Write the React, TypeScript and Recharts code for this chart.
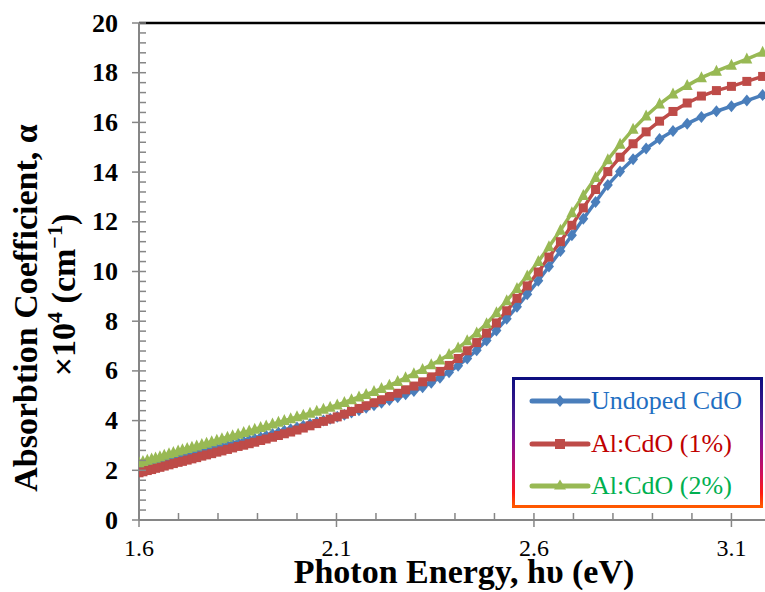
import React from 'react';
import { LineChart, Line, XAxis, YAxis, ReferenceLine, Legend, Label } from 'recharts';

const energy = [
  1.600, 1.610, 1.621, 1.632, 1.642, 1.653, 1.664, 1.676, 1.687, 1.699,
  1.710, 1.722, 1.734, 1.746, 1.759, 1.771, 1.784, 1.797, 1.810, 1.824,
  1.837, 1.851, 1.865, 1.879, 1.893, 1.908, 1.922, 1.938, 1.953, 1.968,
  1.984, 2.000, 2.016, 2.033, 2.050, 2.067, 2.084, 2.102, 2.120, 2.138,
  2.157, 2.175, 2.195, 2.214, 2.234, 2.255, 2.275, 2.296, 2.318, 2.340,
  2.362, 2.385, 2.408, 2.431, 2.455, 2.480, 2.505, 2.531, 2.557, 2.583,
  2.611, 2.638, 2.667, 2.696, 2.725, 2.756, 2.787, 2.818, 2.851, 2.884,
  2.918, 2.952, 2.988, 3.024, 3.062, 3.100, 3.139, 3.179,
];

const undoped = [
  2.10, 2.14, 2.18, 2.23, 2.27, 2.31, 2.36, 2.40, 2.45, 2.50,
  2.54, 2.59, 2.64, 2.69, 2.74, 2.79, 2.84, 2.89, 2.94, 3.00,
  3.05, 3.10, 3.16, 3.22, 3.27, 3.33, 3.39, 3.46, 3.52, 3.59,
  3.65, 3.72, 3.79, 3.86, 3.93, 4.00, 4.07, 4.15, 4.24, 4.33,
  4.42, 4.52, 4.62, 4.72, 4.83, 4.94, 5.06, 5.19, 5.34, 5.52,
  5.72, 5.95, 6.21, 6.50, 6.83, 7.22, 7.63, 8.10, 8.58, 9.08,
  9.63, 10.20, 10.82, 11.46, 12.12, 12.80, 13.48, 14.02, 14.52, 14.95,
  15.33, 15.65, 15.95, 16.22, 16.45, 16.65, 16.88, 17.10,
];

const alCdO1 = [
  1.90, 1.94, 1.99, 2.03, 2.08, 2.12, 2.17, 2.22, 2.27, 2.32,
  2.36, 2.41, 2.46, 2.51, 2.57, 2.62, 2.67, 2.73, 2.78, 2.84,
  2.90, 2.96, 3.01, 3.07, 3.13, 3.20, 3.26, 3.33, 3.40, 3.47,
  3.54, 3.62, 3.70, 3.79, 3.88, 3.97, 4.06, 4.15, 4.26, 4.37,
  4.49, 4.60, 4.72, 4.84, 4.97, 5.10, 5.24, 5.39, 5.56, 5.76,
  5.98, 6.22, 6.50, 6.81, 7.14, 7.52, 7.93, 8.42, 8.92, 9.42,
  9.98, 10.58, 11.20, 11.86, 12.56, 13.30, 14.02, 14.60, 15.14, 15.62,
  16.05, 16.44, 16.78, 17.06, 17.28, 17.45, 17.65, 17.85,
];

const alCdO2 = [
  2.30, 2.35, 2.40, 2.45, 2.50, 2.55, 2.61, 2.67, 2.72, 2.78,
  2.83, 2.88, 2.93, 2.98, 3.04, 3.09, 3.15, 3.21, 3.27, 3.33,
  3.39, 3.45, 3.52, 3.58, 3.65, 3.72, 3.78, 3.86, 3.93, 4.00,
  4.07, 4.15, 4.22, 4.30, 4.38, 4.46, 4.54, 4.63, 4.73, 4.84,
  4.95, 5.05, 5.17, 5.29, 5.42, 5.57, 5.72, 5.89, 6.06, 6.25,
  6.44, 6.66, 6.92, 7.21, 7.53, 7.90, 8.34, 8.82, 9.32, 9.82,
  10.40, 11.00, 11.66, 12.36, 13.06, 13.78, 14.50, 15.12, 15.72, 16.26,
  16.74, 17.14, 17.48, 17.80, 18.06, 18.30, 18.55, 18.82,
];

const seriesNames = ['Undoped CdO', 'Al:CdO (1%)', 'Al:CdO (2%)'];

const xTicks = [1.6, 1.7, 1.8, 1.9, 2.0, 2.1, 2.2, 2.3, 2.4, 2.5, 2.6, 2.7, 2.8, 2.9, 3.0, 3.1];
const xTickLabels = ['1.6', '2.1', '2.6', '3.1'];
const yTicks = [
  0, 0.4, 0.8, 1.2, 1.6, 2, 2.4, 2.8, 3.2, 3.6, 4, 4.4, 4.8, 5.2, 5.6, 6, 6.4, 6.8, 7.2, 7.6,
  8, 8.4, 8.8, 9.2, 9.6, 10, 10.4, 10.8, 11.2, 11.6, 12, 12.4, 12.8, 13.2, 13.6, 14, 14.4, 14.8,
  15.2, 15.6, 16, 16.4, 16.8, 17.2, 17.6, 18, 18.4, 18.8, 19.2, 19.6, 20,
];
const yTickLabels = ['0', '2', '4', '6', '8', '10', '12', '14', '16', '18', '20'];

const data = energy.map((e, i) => ({
  e,
  undoped: undoped[i],
  al1: alCdO1[i],
  al2: alCdO2[i],
}));

const BLUE = '#4a7ebb';
const RED = '#be4b48';
const GREEN = '#98b954';
const AXIS = '#868686';
const FONT = 'Liberation Serif, Times New Roman, serif';

const DiamondDot = (p: any) => {
  const { cx, cy, index } = p;
  if (cx == null || cy == null) return <g key={index} />;
  return (
    <path
      key={index}
      d={`M${cx},${cy - 6}L${cx + 5},${cy}L${cx},${cy + 6}L${cx - 5},${cy}Z`}
      fill={BLUE}
    />
  );
};

const SquareDot = (p: any) => {
  const { cx, cy, index } = p;
  if (cx == null || cy == null) return <g key={index} />;
  return <rect key={index} x={cx - 4.5} y={cy - 4.5} width={9} height={9} fill={RED} />;
};

const TriangleDot = (p: any) => {
  const { cx, cy, index } = p;
  if (cx == null || cy == null) return <g key={index} />;
  return (
    <path
      key={index}
      d={`M${cx},${cy - 6.5}L${cx + 5.5},${cy + 4.5}L${cx - 5.5},${cy + 4.5}Z`}
      fill={GREEN}
    />
  );
};

const YTick = (props: any) => {
  const { x, y, payload } = props;
  const v = payload.value;
  const label = yTickLabels.find((t) => Math.abs(parseFloat(t) - v) < 1e-6);
  const major = label !== undefined;
  return (
    <g>
      <line x1={major ? x - 7 : x} x2={x + 7} y1={y} y2={y} stroke={AXIS} strokeWidth={1.5} />
      {major && (
        <text
          x={x - 21}
          y={y + 8.5}
          textAnchor="end"
          fontWeight="bold"
          fontSize={26}
          fontFamily={FONT}
          fill="#000"
        >
          {label}
        </text>
      )}
    </g>
  );
};

const XTick = (props: any) => {
  const { x, y, payload } = props;
  const v = payload.value;
  const label = xTickLabels.find((t) => Math.abs(parseFloat(t) - v) < 1e-6);
  const major = label !== undefined;
  return (
    <g>
      <line x1={x} x2={x} y1={y - 7} y2={major ? y + 7 : y} stroke={AXIS} strokeWidth={1.5} />
      {major && (
        <text x={x} y={y + 36} textAnchor="middle" fontSize={24} fontFamily={FONT} fill="#000">
          {label}
        </text>
      )}
    </g>
  );
};

const YTitle = () => (
  <g fontFamily={FONT} fontWeight="bold" fontSize={34} fill="#000">
    <text transform="translate(37,308) rotate(-90)" textAnchor="middle">
      Absorbtion Coefficient, α
    </text>
    <text transform="translate(75,295) rotate(-90)" textAnchor="middle">
      ×10<tspan fontSize={22} dy={-13}>4</tspan>
      <tspan dy={13}> (cm</tspan>
      <tspan fontSize={22} dy={-13}>−1</tspan>
      <tspan dy={13}>)</tspan>
    </text>
  </g>
);

const XTitle = () => (
  <text
    x={464}
    y={583}
    textAnchor="middle"
    fontFamily={FONT}
    fontWeight="bold"
    fontSize={34}
    fill="#000"
  >
    Photon Energy, hυ (eV)
  </text>
);

const legendItems = [
  { name: seriesNames[0], color: BLUE, text: '#1f6fc2', marker: 'diamond' },
  { name: seriesNames[1], color: RED, text: '#c00000', marker: 'square' },
  { name: seriesNames[2], color: GREEN, text: '#00b050', marker: 'triangle' },
];

const LegendBox = () => (
  <div
    style={{
      boxSizing: 'border-box',
      width: 251,
      height: 131,
      border: '3px solid',
      borderImage:
        'linear-gradient(to bottom, #0e0e80 0%, #4a1a90 30%, #8a1090 50%, #d0105a 75%, #ff1a10 90%, #ff5a00 100%) 1',
      background: '#fff',
      paddingTop: 0,
      fontFamily: FONT,
    }}
  >
    {legendItems.map((it) => (
      <div key={it.name} style={{ display: 'flex', alignItems: 'center', height: 42.5 }}>
        <svg width={76} height={20} style={{ display: 'block' }}>
          <line x1={17} x2={73} y1={10} y2={10} stroke={it.color} strokeWidth={5} strokeLinecap="round" />
          {it.marker === 'diamond' && <path d="M45,4L50,10L45,16L40,10Z" fill={it.color} />}
          {it.marker === 'square' && <rect x={40} y={5} width={10} height={10} fill={it.color} />}
          {it.marker === 'triangle' && <path d="M45,3.5L51,13.5L39,13.5Z" fill={it.color} />}
        </svg>
        <span style={{ color: it.text, fontSize: 26, lineHeight: '26px', whiteSpace: 'nowrap' }}>
          {it.name}
        </span>
      </div>
    ))}
  </div>
);

export default function App() {
  return (
    <div style={{ position: 'absolute', left: 0, top: 0, width: 765, height: 592, background: '#fff' }}>
      <LineChart
        width={765}
        height={592}
        data={data}
        margin={{ top: 23, right: 0, bottom: 0, left: 0 }}
      >
        <XAxis
          dataKey="e"
          type="number"
          domain={[1.6, 3.185]}
          allowDataOverflow
          ticks={xTicks}
          interval={0}
          tickSize={0}
          tickMargin={0}
          height={72}
          tick={<XTick />}
          tickLine={false}
          axisLine={{ stroke: AXIS, strokeWidth: 2 }}
        >
          <Label content={XTitle} />
        </XAxis>
        <YAxis
          type="number"
          domain={[0, 20]}
          ticks={yTicks}
          interval={0}
          tickSize={0}
          tickMargin={0}
          width={139}
          tick={<YTick />}
          tickLine={false}
          axisLine={{ stroke: AXIS, strokeWidth: 2 }}
        >
          <Label content={YTitle} />
        </YAxis>
        <ReferenceLine y={20} stroke="#000" strokeWidth={2.5} />
        <Line
          dataKey="undoped"
          name={seriesNames[0]}
          stroke={BLUE}
          strokeWidth={3.5}
          dot={DiamondDot}
          isAnimationActive={false}
        />
        <Line
          dataKey="al1"
          name={seriesNames[1]}
          stroke={RED}
          strokeWidth={3.5}
          dot={SquareDot}
          isAnimationActive={false}
        />
        <Line
          dataKey="al2"
          name={seriesNames[2]}
          stroke={GREEN}
          strokeWidth={3.5}
          dot={TriangleDot}
          isAnimationActive={false}
        />
        <Legend
          layout="vertical"
          align="center"
          verticalAlign="middle"
          content={LegendBox}
          wrapperStyle={{ left: 512, top: 377, width: 251, height: 131 }}
        />
      </LineChart>
    </div>
  );
}
